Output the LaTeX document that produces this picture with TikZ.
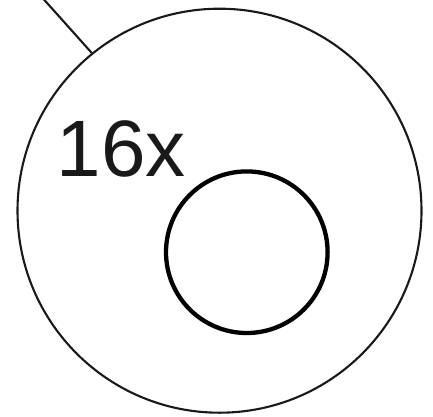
\documentclass[tikz,border=0pt]{standalone}
\usepackage{fontspec}
\setmainfont{Liberation Sans}
\begin{document}
\begin{tikzpicture}[x=1pt,y=-1pt,
  thinline/.style={line width=2.1pt,draw=black!90},
  thickline/.style={line width=4.3pt,draw=black}]
\useasboundingbox (0,0) rectangle (433,416);
\node[circle,thinline,minimum size=404pt,inner sep=0pt] (big) at (219.5,210.7) {};
\node[circle,thickline,minimum size=161.6pt,inner sep=0pt] (small) at (246.8,252.2) {};
\coordinate (top) at (43.5,-1);
\draw[thinline] (top) -- (big.{180-50.4});
\node[anchor=base west,inner sep=0pt,font=\fontsize{80pt}{90pt}\selectfont,text=black!90] (lbl) at (56.5,176) {16x};
\end{tikzpicture}
\end{document}
